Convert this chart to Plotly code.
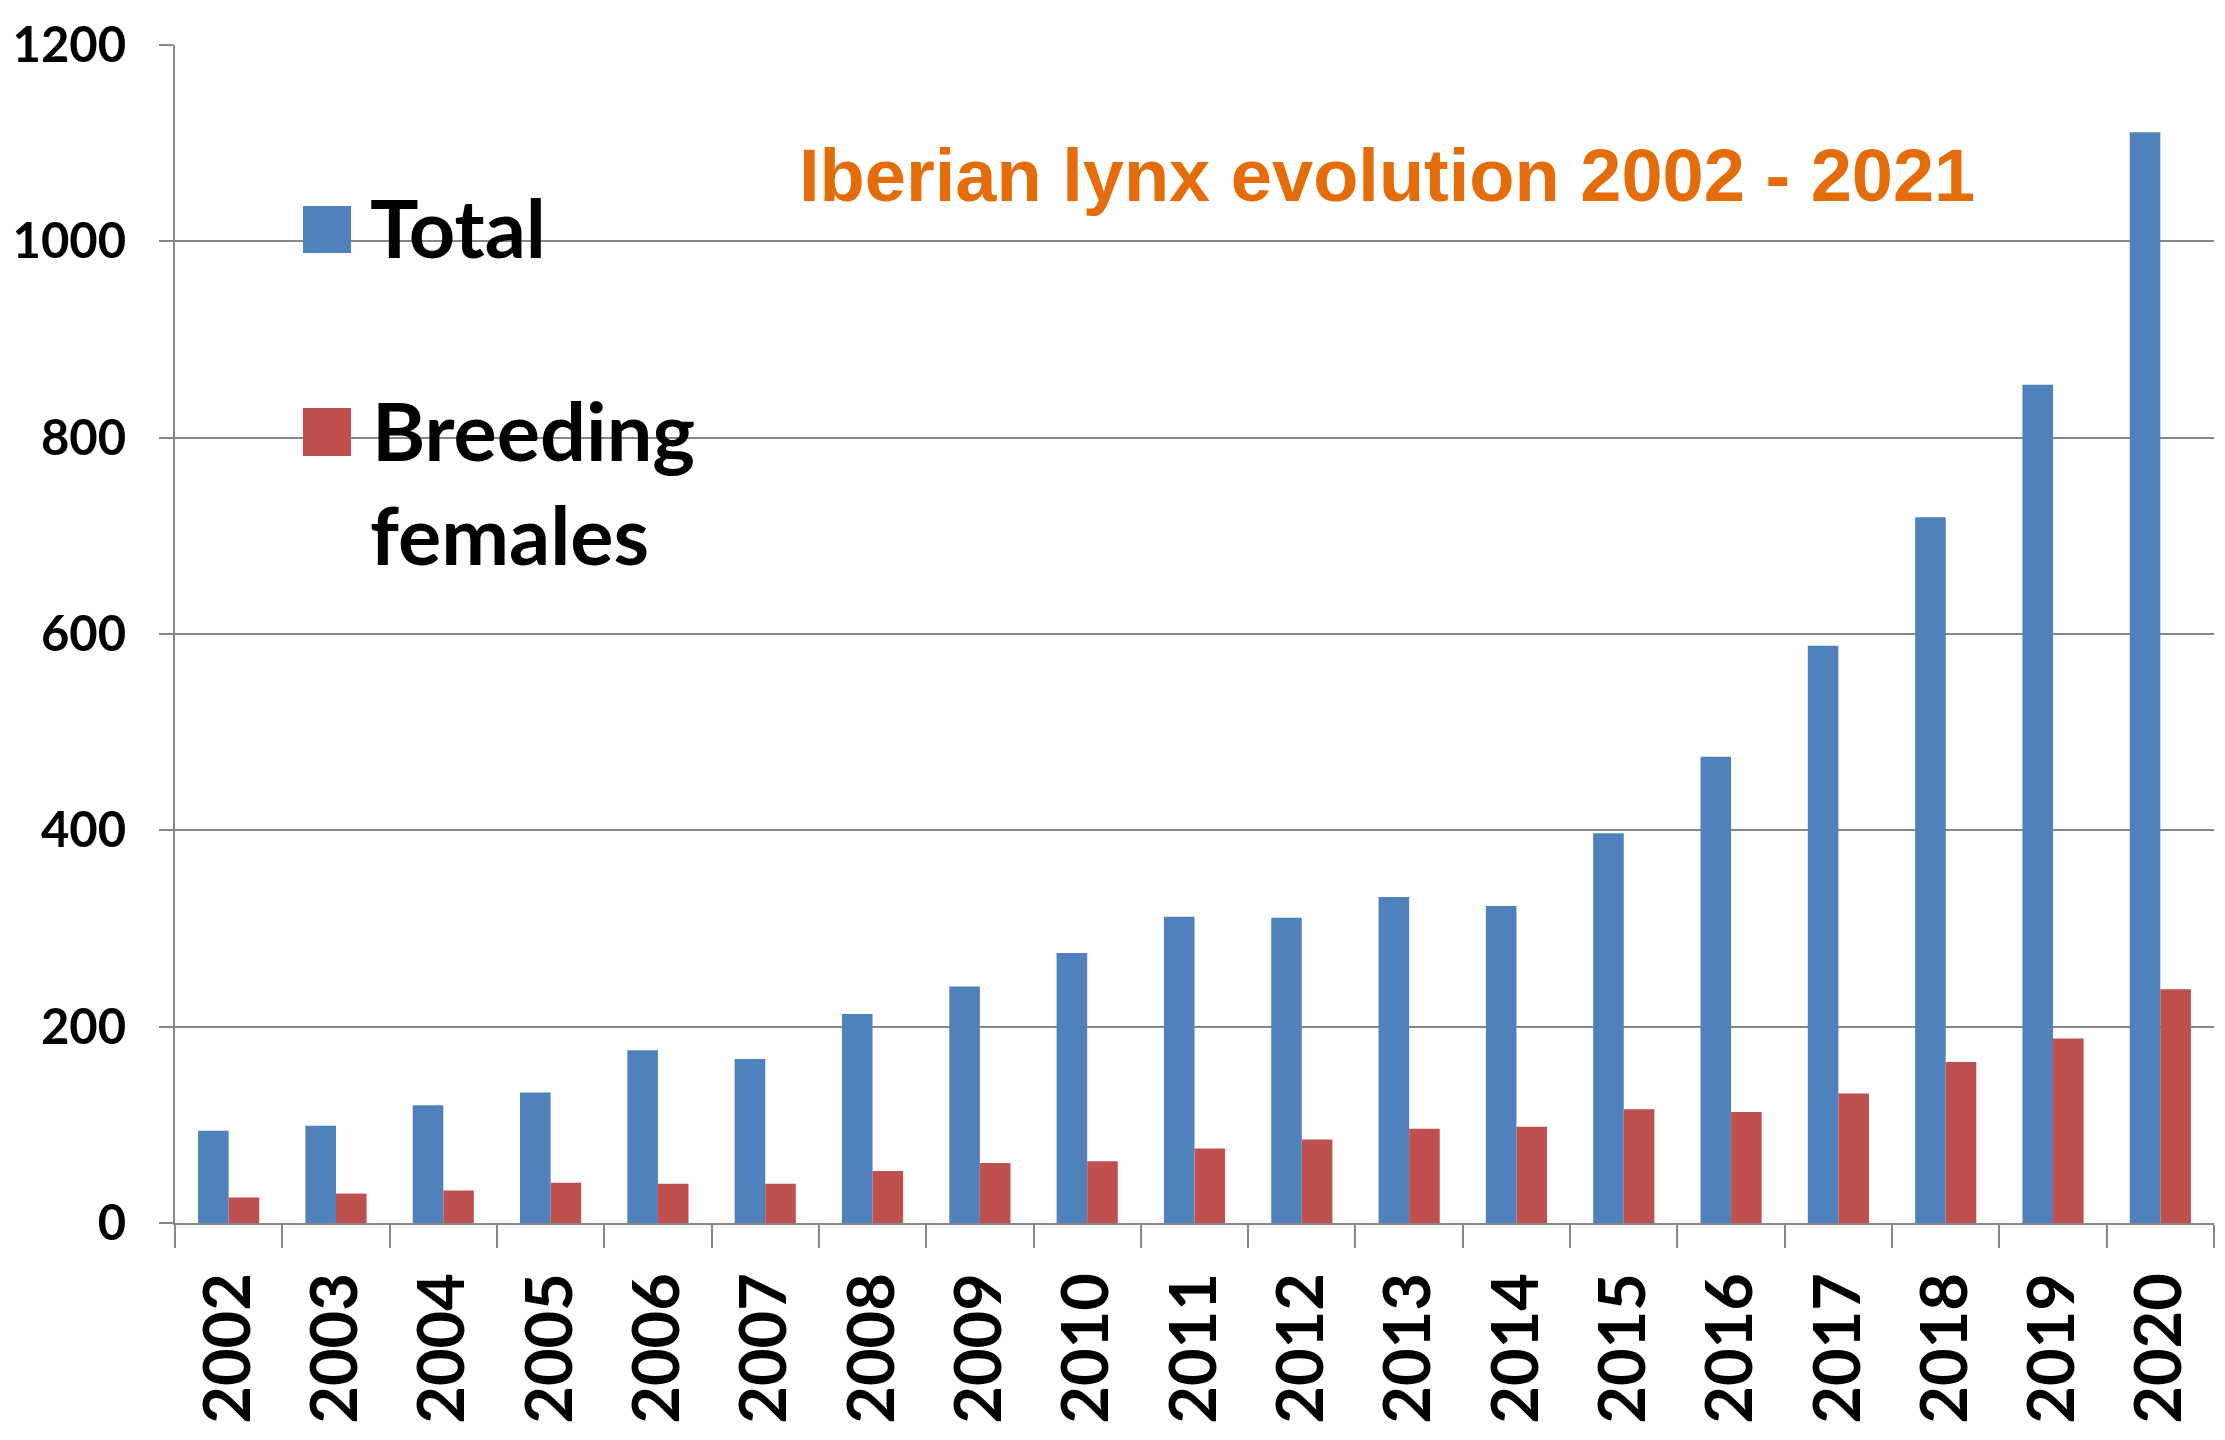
import plotly.graph_objects as go

years = [str(y) for y in range(2002, 2021)]
total = [94, 99, 120, 133, 176, 167, 213, 241, 275, 312, 311, 332, 323, 397, 475, 588, 719, 854, 1111]
females = [26, 30, 33, 41, 40, 40, 53, 61, 63, 76, 85, 96, 98, 116, 113, 132, 164, 188, 238]
y_ticks = [0, 200, 400, 600, 800, 1000, 1200]

BLUE = "#4F81BD"
RED = "#C0504D"
GRID = "#878787"
ORANGE = "#E46C0A"

fig = go.Figure()
fig.add_trace(go.Bar(x=years, y=total, name="Total", marker=dict(color=BLUE, line=dict(width=0)), showlegend=False))
fig.add_trace(go.Bar(x=years, y=females, name="Breeding females", marker=dict(color=RED, line=dict(width=0)), showlegend=False))

W, H = 2225, 1440
OFF = 8  # default page body margin
# plot area in page coordinates: x 175..2214, y 45..1223
PX0, PX1, PY0, PY1 = 175, 2214, 45, 1223
L, T = PX0 - OFF, PY0 - OFF
R, B = W - (PX1 - OFF), H - (PY1 - OFF)
pw, ph = PX1 - PX0, PY1 - PY0

def px(x):
    return (x - PX0) / pw

def py(y):
    return 1 - (y - PY0) / ph

fig.update_layout(
    width=W, height=H,
    margin=dict(l=L, r=R, t=T, b=B, autoexpand=False),
    paper_bgcolor="white", plot_bgcolor="white",
    barmode="group", bargap=0.43, bargroupgap=0,
    showlegend=False,
    font=dict(family="Lato", color="black"),
)

fig.update_xaxes(
    type="category", automargin=False,
    showline=True, linecolor=GRID, linewidth=2,
    ticks="outside", tickson="boundaries", ticklen=23, tickwidth=2, tickcolor=GRID,
    tickangle=-90,
    tickfont=dict(family="Lato", size=65, color="black", weight="bold"),
    ticklabelstandoff=22,
    showgrid=False,
)
fig.update_yaxes(
    range=[0, 1200], tickvals=y_ticks, ticktext=[str(v) for v in y_ticks], automargin=False,
    showline=True, linecolor=GRID, linewidth=2,
    showgrid=True, gridcolor=GRID, gridwidth=2,
    ticks="outside", ticklen=14, tickwidth=2, tickcolor=GRID,
    tickfont=dict(family="Lato", size=49, color="black", weight="bold"),
    ticklabelstandoff=23,
    zeroline=False,
)

# Title
fig.add_annotation(
    text="Iberian lynx evolution 2002 - 2021", xref="paper", yref="paper",
    x=px(1387), y=py(175.5), xanchor="center", yanchor="middle", showarrow=False,
    font=dict(family="Liberation Sans", size=74, color=ORANGE, weight="bold"),
)

# Legend (drawn manually for large swatches)
fig.add_shape(type="rect", xref="paper", yref="paper",
              x0=px(303), x1=px(351), y0=py(253), y1=py(206),
              fillcolor=BLUE, line=dict(width=0))
fig.add_shape(type="rect", xref="paper", yref="paper",
              x0=px(303), x1=px(351), y0=py(456), y1=py(408),
              fillcolor=RED, line=dict(width=0))
legend_font = dict(family="Lato", size=81, color="black", weight="bold")
fig.add_annotation(text="Total", xref="paper", yref="paper", x=px(368), y=py(226),
                   xanchor="left", yanchor="middle", showarrow=False, font=legend_font)
fig.add_annotation(text="Breeding", xref="paper", yref="paper", x=px(370), y=py(430),
                   xanchor="left", yanchor="middle", showarrow=False, font=legend_font)
fig.add_annotation(text="females", xref="paper", yref="paper", x=px(368), y=py(533),
                   xanchor="left", yanchor="middle", showarrow=False, font=legend_font)

fig.write_html("out.html")
